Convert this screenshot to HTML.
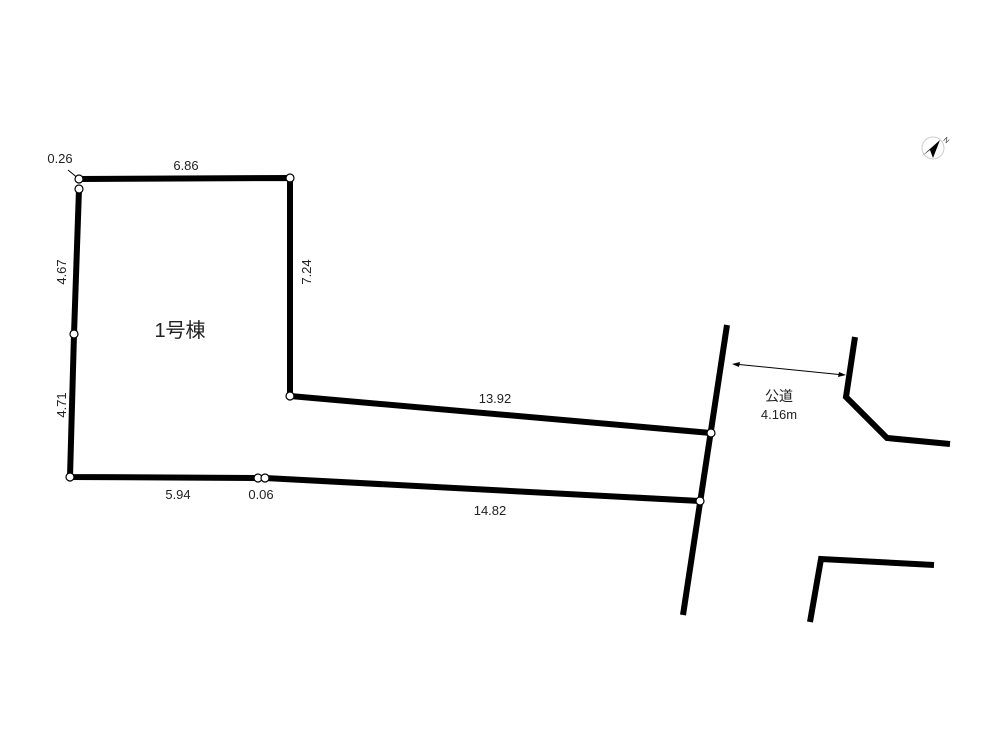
<!DOCTYPE html>
<html><head><meta charset="utf-8"><style>
html,body{margin:0;padding:0;background:#fff;}
svg{display:block;}
text{font-family:"Liberation Sans","Noto Sans CJK JP",sans-serif;fill:#222;}
</style></head><body>
<svg width="1000" height="750" viewBox="0 0 1000 750" xmlns="http://www.w3.org/2000/svg">
<g stroke="#000" stroke-width="6" fill="none" stroke-linejoin="miter">
<polyline points="79,179 290,178 290,396 711,433"/>
<polyline points="79,189 74,334 70,477 258,478 265,478 700,501"/>
<line x1="727" y1="325" x2="683" y2="615"/>
<polyline points="855,337 846,397 887,438 950,444"/>
<polyline points="810,622 821,559 934,565"/>
</g>
<line x1="68" y1="170" x2="79" y2="179" stroke="#000" stroke-width="1"/>
<line x1="734" y1="364" x2="844" y2="375" stroke="#000" stroke-width="1"/>
<polygon points="732,364 740,362 739,367" fill="#000"/>
<polygon points="846,375 838,377 839,372" fill="#000"/>
<g fill="#fff" stroke="#000" stroke-width="1.2">
<circle cx="79" cy="179" r="4"/><circle cx="79" cy="189" r="4"/>
<circle cx="290" cy="178" r="4"/><circle cx="290" cy="396" r="4"/>
<circle cx="711" cy="433" r="4"/><circle cx="74" cy="334" r="4"/>
<circle cx="70" cy="477" r="4"/><circle cx="258" cy="478" r="4"/>
<circle cx="265" cy="478" r="4"/><circle cx="700" cy="501" r="4"/>
</g>
<g font-size="13" text-anchor="middle">
<text x="60" y="163">0.26</text>
<text x="186" y="170">6.86</text>
<text transform="translate(66,272) rotate(-90)">4.67</text>
<text transform="translate(311,272) rotate(-90)">7.24</text>
<text transform="translate(66,405) rotate(-90)">4.71</text>
<text x="495" y="403">13.92</text>
<text x="178" y="499">5.94</text>
<text x="261" y="499">0.06</text>
<text x="490" y="515">14.82</text>
<text x="779" y="401" font-size="14">公道</text>
<text x="779" y="419">4.16m</text>
</g>
<text x="180" y="337" font-size="20" text-anchor="middle">1号棟</text>
<circle cx="933" cy="148" r="11" fill="none" stroke="#ccc" stroke-width="1"/>
<polygon points="922,156 940,140 933,158 930,150" fill="#000"/>
<text x="943" y="140" font-size="7" transform="rotate(45 943 140)">N</text>
</svg>
</body></html>
